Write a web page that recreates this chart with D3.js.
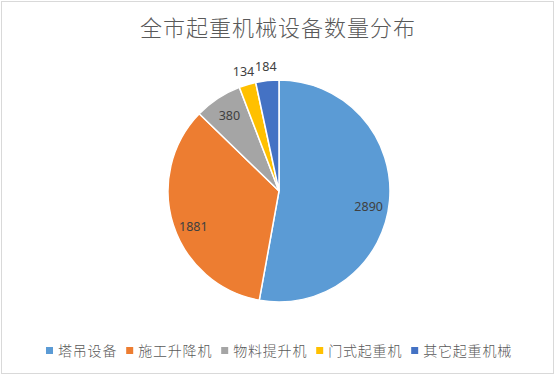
<!DOCTYPE html>
<html>
<head>
    <meta charset="utf-8">
    <title>全市起重机械设备数量分布</title>
    <script src="https://d3js.org/d3.v7.min.js"></script>
    <style>
        body { margin: 0; background: #fff; font-family: "Noto Sans CJK SC", "Noto Sans", sans-serif; }
        .title { font-size: 22px; fill: #595959; letter-spacing: 1px; font-weight: 300; }
        .label { font-size: 12.5px; fill: #404040; font-family: "Noto Sans", "Noto Sans CJK SC", sans-serif; }
        .legend text { font-size: 14px; fill: #595959; letter-spacing: 0.8px; font-weight: 300; }
    </style>
</head>
<body>
<div id="chart"></div>
<script>
const categories = ["塔吊设备", "施工升降机", "物料提升机", "门式起重机", "其它起重机械"];
const values = [2890, 1881, 380, 134, 184];
const colors = ["#5B9BD5", "#ED7D31", "#A5A5A5", "#FFC000", "#4472C4"];

const W = 556, H = 376;
const cx = 279, cy = 191, r = 111;

const svg = d3.select("#chart").append("svg")
    .attr("width", W).attr("height", H);

// chart border
svg.append("rect")
    .attr("x", 1.5).attr("y", 1.5)
    .attr("width", W - 4).attr("height", H - 4)
    .attr("fill", "#fff").attr("stroke", "#d9d9d9");

svg.append("text")
    .attr("class", "title")
    .attr("x", W / 2).attr("y", 36)
    .attr("text-anchor", "middle")
    .text("全市起重机械设备数量分布");

const data = categories.map((c, i) => ({ name: c, value: values[i], color: colors[i] }));

const pie = d3.pie().sort(null).value(d => d.value);
const arc = d3.arc().innerRadius(0).outerRadius(r);
const total = d3.sum(values);

const g = svg.append("g").attr("transform", `translate(${cx},${cy})`);

const arcs = pie(data);

g.selectAll("path")
    .data(arcs)
    .enter()
    .append("path")
    .attr("d", arc)
    .attr("fill", d => d.data.color)
    .attr("stroke", "#fff")
    .attr("stroke-width", 1.5);

// small slices get their label outside, the rest inside
const inLabel = d3.arc().innerRadius(90).outerRadius(90);
const outLabel = d3.arc().innerRadius(125).outerRadius(125);

g.selectAll(".label")
    .data(arcs)
    .enter()
    .append("text")
    .attr("class", "label")
    .attr("transform", d => {
        const small = d.data.value / total < 0.05;
        const p = (small ? outLabel : inLabel).centroid(d);
        // excel's best-fit nudges the big inside labels a bit downward
        const nudge = small ? 0 : Math.max(0, p[1] > -20 ? 8 : 0);
        return `translate(${p[0]},${p[1] + nudge})`;
    })
    .attr("text-anchor", "middle")
    .attr("dy", "0.35em")
    .text(d => d.data.value);

// legend, laid out in one row and centred
const legend = svg.append("g").attr("class", "legend");
const items = legend.selectAll("g")
    .data(data)
    .enter()
    .append("g");

items.append("rect")
    .attr("width", 7).attr("height", 7)
    .attr("y", -4)
    .attr("fill", d => d.color);

items.append("text")
    .attr("x", 12)
    .attr("dy", "0.35em")
    .text(d => d.name);

let xPos = 0;
items.each(function() {
    const w = this.querySelector("text").getComputedTextLength() + 12;
    d3.select(this).attr("transform", `translate(${xPos},0)`);
    xPos += w + 9;
});
const legendW = xPos - 9;
legend.attr("transform", `translate(${(W - legendW) / 2 + 1},351)`);
</script>
</body>
</html>
